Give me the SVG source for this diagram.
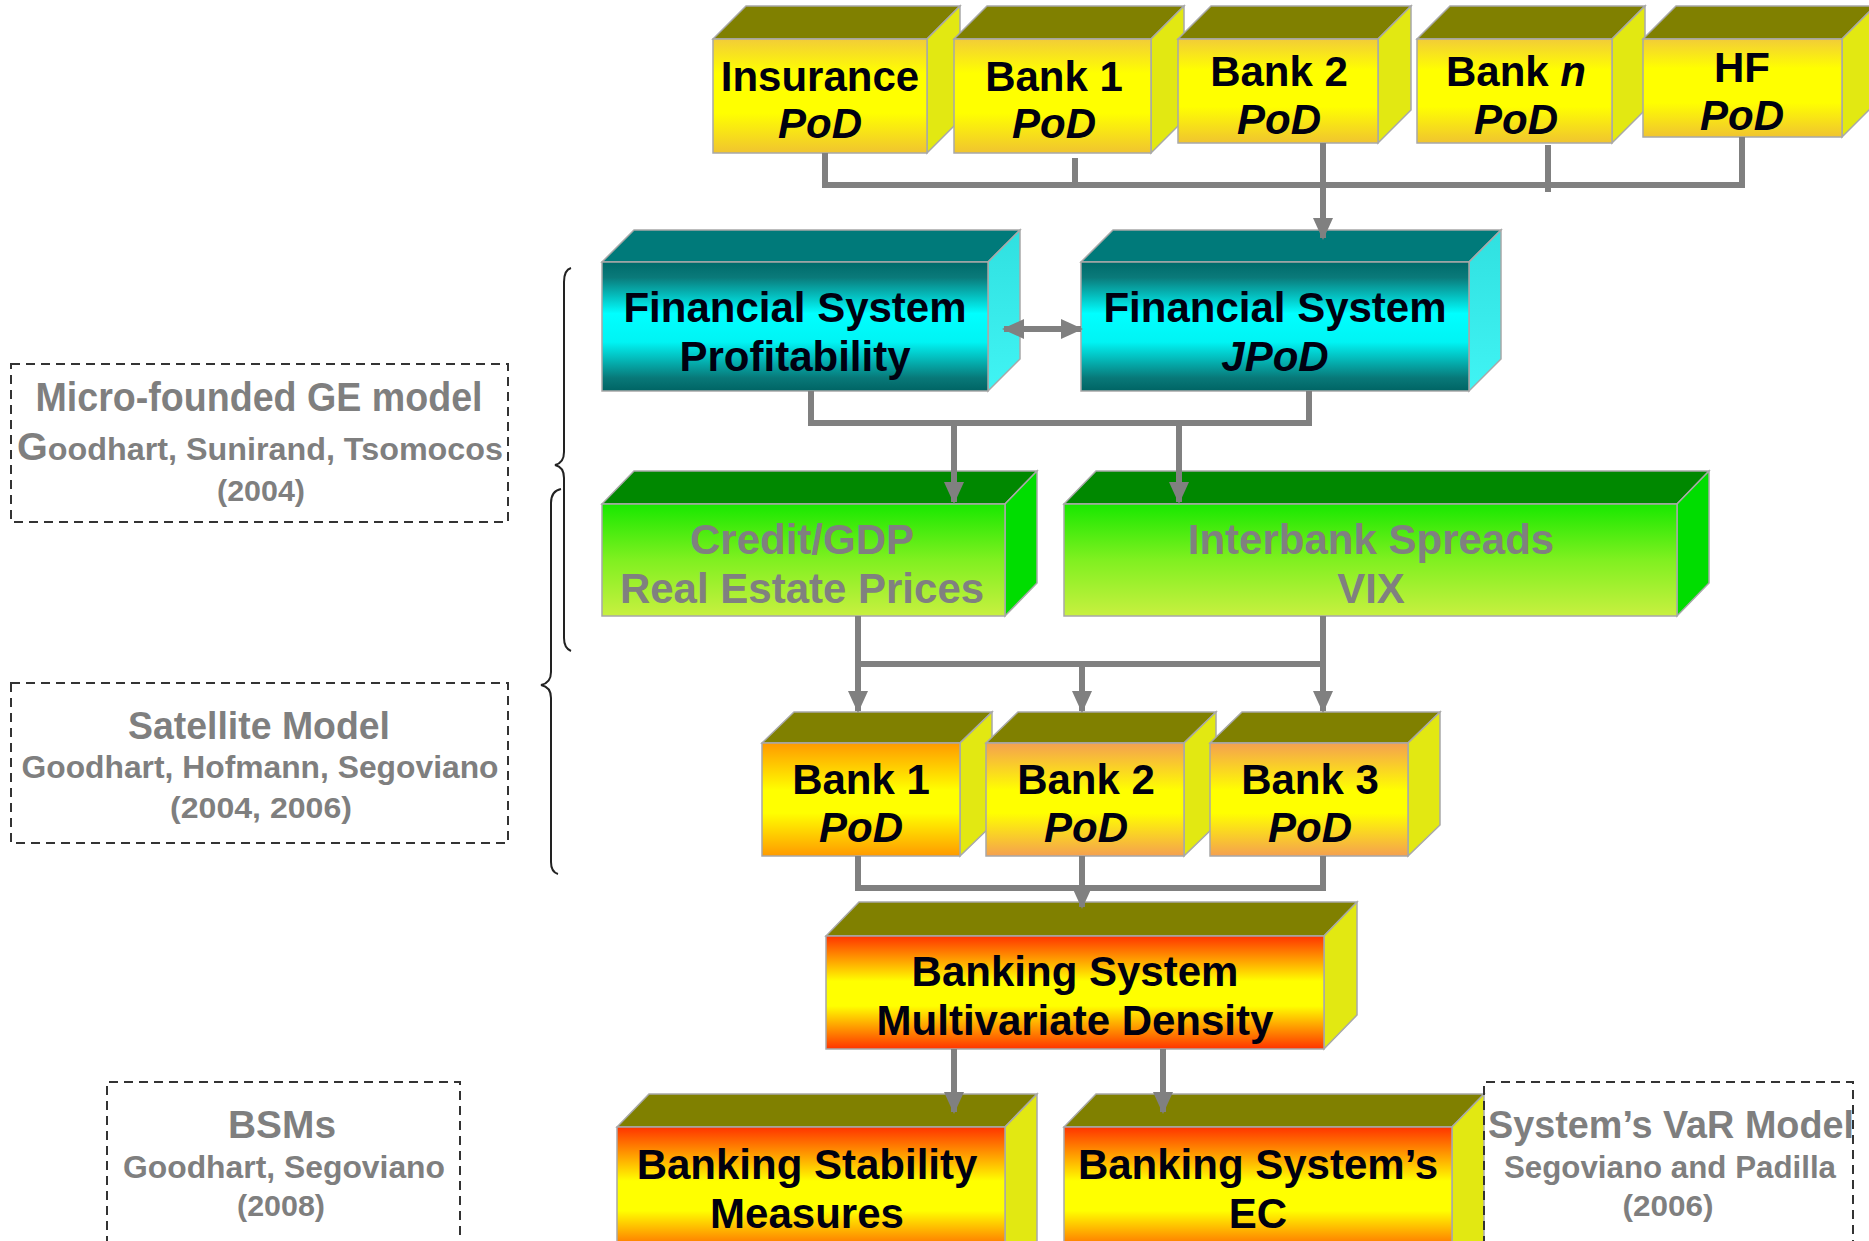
<svg xmlns="http://www.w3.org/2000/svg" width="1869" height="1241" viewBox="0 0 1869 1241">
<defs>
<style>
.edge{stroke:#a8a8a8;stroke-width:1.5}
.lbl{font-family:"Liberation Sans",Arial,sans-serif;font-weight:700;font-size:42px;fill:#000010;text-anchor:middle}
.glbl{font-family:"Liberation Sans",Arial,sans-serif;font-weight:700;fill:#7f7f7f;text-anchor:middle}
.it{font-style:italic}
.conn{fill:none;stroke:#808080;stroke-width:6}
.dash{fill:none;stroke:#333;stroke-width:2;stroke-dasharray:9 6}
.brace{fill:none;stroke:#222;stroke-width:2}
.olive{fill:#808000}
.yside{fill:#e2e812}
</style>
<linearGradient id="gYel" x1="0" y1="0" x2="0" y2="1">
<stop offset="0" stop-color="#f2cc38"/><stop offset="0.3" stop-color="#ffff00"/><stop offset="0.65" stop-color="#ffff00"/><stop offset="1" stop-color="#f0c430"/>
</linearGradient>
<linearGradient id="gTeal" x1="0" y1="0" x2="0" y2="1">
<stop offset="0" stop-color="#006a6a"/><stop offset="0.12" stop-color="#0a7a7a"/><stop offset="0.4" stop-color="#00ffff"/><stop offset="0.62" stop-color="#00f4f4"/><stop offset="0.9" stop-color="#087878"/><stop offset="1" stop-color="#006464"/>
</linearGradient>
<linearGradient id="gTealSide" x1="0" y1="0" x2="0" y2="1">
<stop offset="0" stop-color="#30e0e0"/><stop offset="1" stop-color="#40f4f4"/>
</linearGradient>
<linearGradient id="gGreen" x1="0" y1="0" x2="0" y2="1">
<stop offset="0" stop-color="#18e800"/><stop offset="0.5" stop-color="#80f020"/><stop offset="1" stop-color="#c8f040"/>
</linearGradient>
<linearGradient id="gOr1" x1="0" y1="0" x2="0" y2="1">
<stop offset="0" stop-color="#ff9a00"/><stop offset="0.42" stop-color="#ffff00"/><stop offset="0.62" stop-color="#ffff00"/><stop offset="1" stop-color="#ff9a00"/>
</linearGradient>
<linearGradient id="gOr2" x1="0" y1="0" x2="0" y2="1">
<stop offset="0" stop-color="#f4a050"/><stop offset="0.42" stop-color="#ffff00"/><stop offset="0.62" stop-color="#ffff00"/><stop offset="1" stop-color="#f4a050"/>
</linearGradient>
<linearGradient id="gRed" x1="0" y1="0" x2="0" y2="1">
<stop offset="0" stop-color="#ff3300"/><stop offset="0.4" stop-color="#ffff00"/><stop offset="0.62" stop-color="#ffff00"/><stop offset="1" stop-color="#ff3300"/>
</linearGradient>
<marker id="ah" markerUnits="userSpaceOnUse" markerWidth="22" markerHeight="22" viewBox="0 0 22 22" refX="20" refY="11" orient="auto-start-reverse">
<path d="M0,1 L22,11 L0,21 Z" fill="#808080"/>
</marker>
</defs>

<!-- top row -->
<g id="n-insurance">
<polygon class="olive edge" points="713,39 746,6 960,6 927,39"/>
<polygon class="yside edge" points="927,39 960,6 960,120 927,153"/>
<rect class="edge" x="713" y="39" width="214" height="114" fill="url(#gYel)"/>
<text class="lbl" x="820" y="91">Insurance</text>
<text class="lbl it" x="820" y="138">PoD</text>
</g>
<g id="n-bank1-top">
<polygon class="olive edge" points="954,39 987,6 1184,6 1151,39"/>
<polygon class="yside edge" points="1151,39 1184,6 1184,120 1151,153"/>
<rect class="edge" x="954" y="39" width="197" height="114" fill="url(#gYel)"/>
<text class="lbl" x="1054" y="91">Bank 1</text>
<text class="lbl it" x="1054" y="138">PoD</text>
</g>
<g id="n-bank2-top">
<polygon class="olive edge" points="1178,39 1211,6 1411,6 1378,39"/>
<polygon class="yside edge" points="1378,39 1411,6 1411,110 1378,143"/>
<rect class="edge" x="1178" y="39" width="200" height="104" fill="url(#gYel)"/>
<text class="lbl" x="1279" y="86">Bank 2</text>
<text class="lbl it" x="1279" y="134">PoD</text>
</g>
<g id="n-bankn-top">
<polygon class="olive edge" points="1417,39 1450,6 1645,6 1612,39"/>
<polygon class="yside edge" points="1612,39 1645,6 1645,110 1612,143"/>
<rect class="edge" x="1417" y="39" width="195" height="104" fill="url(#gYel)"/>
<text class="lbl" x="1516" y="86">Bank <tspan class="it">n</tspan></text>
<text class="lbl it" x="1516" y="134">PoD</text>
</g>
<g id="n-hf">
<polygon class="olive edge" points="1643,39 1676,6 1875,6 1842,39"/>
<polygon class="yside edge" points="1842,39 1875,6 1875,104 1842,137"/>
<rect class="edge" x="1643" y="39" width="199" height="98" fill="url(#gYel)"/>
<text class="lbl" x="1742" y="82">HF</text>
<text class="lbl it" x="1742" y="130">PoD</text>
</g>

<!-- teal row -->
<g id="n-profitability">
<polygon class="edge" fill="#007a7a" points="602,262 634,230 1020,230 988,262"/>
<polygon class="edge" fill="url(#gTealSide)" points="988,262 1020,230 1020,359 988,391"/>
<rect class="edge" x="602" y="262" width="386" height="129" fill="url(#gTeal)"/>
<text class="lbl" x="795" y="322">Financial System</text>
<text class="lbl" x="795" y="371">Profitability</text>
</g>
<g id="n-jpod">
<polygon class="edge" fill="#007a7a" points="1081,262 1113,230 1501,230 1469,262"/>
<polygon class="edge" fill="url(#gTealSide)" points="1469,262 1501,230 1501,359 1469,391"/>
<rect class="edge" x="1081" y="262" width="388" height="129" fill="url(#gTeal)"/>
<text class="lbl" x="1275" y="322">Financial System</text>
<text class="lbl it" x="1275" y="371">JPoD</text>
</g>

<!-- green row -->
<g id="n-credit">
<polygon class="edge" fill="#008800" points="602,504 634,471 1037,471 1005,504"/>
<polygon class="edge" fill="#00dd00" points="1005,504 1037,471 1037,583 1005,616"/>
<rect class="edge" x="602" y="504" width="403" height="112" fill="url(#gGreen)"/>
<text class="lbl" style="fill:#808080" x="802" y="554">Credit/GDP</text>
<text class="lbl" style="fill:#808080" x="802" y="603">Real Estate Prices</text>
</g>
<g id="n-interbank">
<polygon class="edge" fill="#008800" points="1064,504 1096,471 1709,471 1677,504"/>
<polygon class="edge" fill="#00dd00" points="1677,504 1709,471 1709,583 1677,616"/>
<rect class="edge" x="1064" y="504" width="613" height="112" fill="url(#gGreen)"/>
<text class="lbl" style="fill:#808080" x="1371" y="554">Interbank Spreads</text>
<text class="lbl" style="fill:#808080" x="1371" y="603">VIX</text>
</g>

<!-- bank row -->
<g id="n-bank1">
<polygon class="olive edge" points="762,743 794,712 992,712 960,743"/>
<polygon class="yside edge" points="960,743 992,712 992,825 960,856"/>
<rect class="edge" x="762" y="743" width="198" height="113" fill="url(#gOr1)"/>
<text class="lbl" x="861" y="794">Bank 1</text>
<text class="lbl it" x="861" y="842">PoD</text>
</g>
<g id="n-bank2">
<polygon class="olive edge" points="986,743 1018,712 1216,712 1184,743"/>
<polygon class="yside edge" points="1184,743 1216,712 1216,825 1184,856"/>
<rect class="edge" x="986" y="743" width="198" height="113" fill="url(#gOr2)"/>
<text class="lbl" x="1086" y="794">Bank 2</text>
<text class="lbl it" x="1086" y="842">PoD</text>
</g>
<g id="n-bank3">
<polygon class="olive edge" points="1210,743 1242,712 1440,712 1408,743"/>
<polygon class="yside edge" points="1408,743 1440,712 1440,825 1408,856"/>
<rect class="edge" x="1210" y="743" width="198" height="113" fill="url(#gOr2)"/>
<text class="lbl" x="1310" y="794">Bank 3</text>
<text class="lbl it" x="1310" y="842">PoD</text>
</g>

<!-- banking system -->
<g id="n-banking-system">
<polygon class="olive edge" points="826,936 859,902 1357,902 1324,936"/>
<polygon class="yside edge" points="1324,936 1357,902 1357,1015 1324,1049"/>
<rect class="edge" x="826" y="936" width="498" height="113" fill="url(#gRed)"/>
<text class="lbl" x="1075" y="986">Banking System</text>
<text class="lbl" x="1075" y="1035">Multivariate Density</text>
</g>

<!-- bottom row -->
<g id="n-stability">
<polygon class="olive edge" points="617,1127 649,1094 1037,1094 1005,1127"/>
<polygon class="yside edge" points="1005,1127 1037,1094 1037,1241 1005,1260"/>
<rect class="edge" x="617" y="1127" width="388" height="135" fill="url(#gRed)"/>
<text class="lbl" x="807" y="1179">Banking Stability</text>
<text class="lbl" x="807" y="1228">Measures</text>
</g>
<g id="n-ec">
<polygon class="olive edge" points="1064,1127 1096,1094 1484,1094 1452,1127"/>
<polygon class="yside edge" points="1452,1127 1484,1094 1484,1241 1452,1260"/>
<rect class="edge" x="1064" y="1127" width="388" height="135" fill="url(#gRed)"/>
<text class="lbl" x="1258" y="1179">Banking System’s</text>
<text class="lbl" x="1258" y="1228">EC</text>
</g>

<!-- connectors -->
<g id="connectors">
<path class="conn" d="M825,153 V185 H1742 V137"/>
<path class="conn" d="M1075,158 V185"/>
<path class="conn" d="M1548,145 V192"/>
<path class="conn" d="M1323,143 V238" marker-end="url(#ah)"/>
<path class="conn" d="M1004,329 H1081" marker-start="url(#ah)" marker-end="url(#ah)"/>
<path class="conn" d="M811,391 V423 H1309 V391"/>
<path class="conn" d="M954,423 V502" marker-end="url(#ah)"/>
<path class="conn" d="M1179,423 V502" marker-end="url(#ah)"/>
<path class="conn" d="M858,616 V664 H1323 V616"/>
<path class="conn" d="M858,664 V711" marker-end="url(#ah)"/>
<path class="conn" d="M1082,664 V711" marker-end="url(#ah)"/>
<path class="conn" d="M1323,664 V711" marker-end="url(#ah)"/>
<path class="conn" d="M858,856 V888 H1323 V856"/>
<path class="conn" d="M1082,856 V907" marker-end="url(#ah)"/>
<path class="conn" d="M954,1049 V1112" marker-end="url(#ah)"/>
<path class="conn" d="M1163,1049 V1112" marker-end="url(#ah)"/>
</g>

<!-- side notes -->
<g id="n-microfounded">
<rect class="dash" x="11" y="364" width="497" height="158"/>
<text class="glbl" x="259" y="411" font-size="40" textLength="447" lengthAdjust="spacingAndGlyphs">Micro-founded GE model</text>
<text class="glbl" x="260" y="460" font-size="31" textLength="486" lengthAdjust="spacingAndGlyphs"><tspan font-size="38">G</tspan>oodhart, Sunirand, Tsomocos</text>
<text class="glbl" x="261" y="501" font-size="30" textLength="88" lengthAdjust="spacingAndGlyphs">(2004)</text>
</g>
<g id="n-satellite">
<rect class="dash" x="11" y="683" width="497" height="160"/>
<text class="glbl" x="259" y="739" font-size="38" textLength="262" lengthAdjust="spacingAndGlyphs">Satellite Model</text>
<text class="glbl" x="260" y="778" font-size="31" textLength="477" lengthAdjust="spacingAndGlyphs">Goodhart, Hofmann, Segoviano</text>
<text class="glbl" x="261" y="818" font-size="30" textLength="182" lengthAdjust="spacingAndGlyphs">(2004, 2006)</text>
</g>
<g id="n-bsms">
<path class="dash" d="M107,1245 V1082 H460 V1245"/>
<text class="glbl" x="282" y="1138" font-size="38" textLength="108" lengthAdjust="spacingAndGlyphs">BSMs</text>
<text class="glbl" x="284" y="1178" font-size="31" textLength="322" lengthAdjust="spacingAndGlyphs">Goodhart, Segoviano</text>
<text class="glbl" x="281" y="1216" font-size="30" textLength="88" lengthAdjust="spacingAndGlyphs">(2008)</text>
</g>
<g id="n-var">
<path class="dash" d="M1484,1245 V1082 H1853 V1245"/>
<text class="glbl" x="1671" y="1138" font-size="38" textLength="366" lengthAdjust="spacingAndGlyphs">System’s VaR Model</text>
<text class="glbl" x="1670" y="1178" font-size="31" textLength="332" lengthAdjust="spacingAndGlyphs">Segoviano and Padilla</text>
<text class="glbl" x="1668" y="1216" font-size="30" textLength="91" lengthAdjust="spacingAndGlyphs">(2006)</text>
</g>

<!-- braces -->
<g id="braces">
<path class="brace" d="M571,268 Q564,270 564,282 L564,452 Q564,463 555,465 Q564,467 564,478 L564,638 Q564,648 571,651"/>
<path class="brace" d="M561,489 Q551,491 551,503 L551,672 Q551,683 541,685 Q551,687 551,698 L551,862 Q551,872 558,874"/>
</g>
</svg>
